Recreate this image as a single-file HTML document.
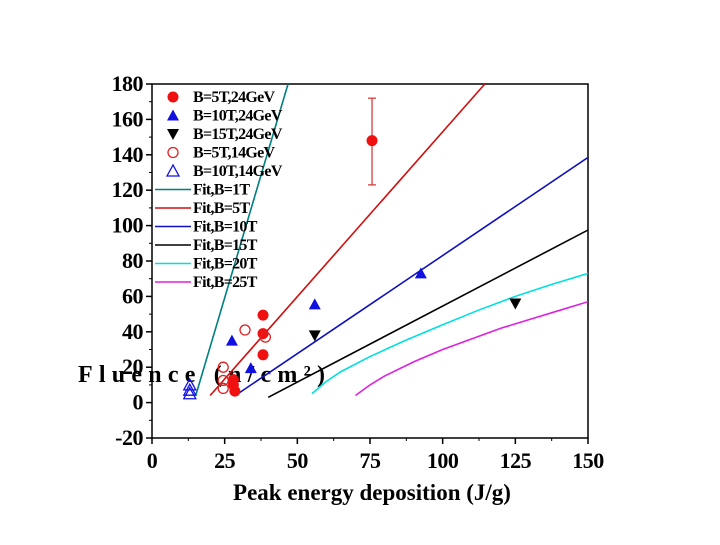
<!DOCTYPE html>
<html><head><meta charset="utf-8"><style>
body{margin:0;background:#fff;}
svg text{font-family:"Liberation Serif",serif;font-weight:bold;}
</style></head><body>
<svg id="c" width="720" height="540" xmlns="http://www.w3.org/2000/svg"></svg>
<script>
const xTicks=[0,25,50,75,100,125,150];
const yTicks=[-20,0,20,40,60,80,100,120,140,160,180];
const red5T24=[[28.5,6.5],[28,10],[28,13],[38.2,27],[38.2,39],[38.2,49.4],[75.7,148]];
const redErr=[75.7,123,172];
const blue10T24=[[27.5,35],[34,19.5],[56,55.5],[92.5,73]];
const black15T24=[[56,38],[125,56]];
const red5T14=[[24.5,8],[24.5,12.5],[24.5,20],[32,41],[39,37]];
const blue10T14=[[13,5],[13,7],[13,10]];
const fit1=[[15.1,4.3],[46.8,180]];
const fit5=[[20,4],[114.5,180]];
const fit10=[[30,5.5],[150,138.5]];
const fit15=[[40,3],[150,97.5]];
const fit20=[[55,5],[60,12],[65,17.5],[75,26],[87,35],[100,44],[112,52],[125,60],[137,66.5],[150,73]];
const fit25=[[70,4],[75,10],[80,15],[90,23],[100,30],[110,36],[120,42],[130,47],[140,52],[150,57]];
const legendLabels=["B=5T,24GeV","B=10T,24GeV","B=15T,24GeV","B=5T,14GeV","B=10T,14GeV","Fit,B=1T","Fit,B=5T","Fit,B=10T","Fit,B=15T","Fit,B=20T","Fit,B=25T"];

const svg=document.getElementById('c');const NS='http://www.w3.org/2000/svg';
const L=152,R=588,T=84,B=438;
const X=v=>L+(v-0)/150*(R-L);
const Y=v=>B-(v+20)/200*(B-T);
function el(t,a,p){const e=document.createElementNS(NS,t);for(const k in a)e.setAttribute(k,a[k]);(p||svg).appendChild(e);return e;}
const frame=el('rect',{x:L,y:T,width:R-L,height:B-T,fill:'none',stroke:'#000','stroke-width':1.5});


xTicks.forEach((v,i)=>{
  el('line',{x1:X(v),x2:X(v),y1:B,y2:B+6,stroke:'#000','stroke-width':1.5});
  if(i<xTicks.length-1)el('line',{x1:X(v+12.5),x2:X(v+12.5),y1:B,y2:B+3,stroke:'#000'});
  const t=el('text',{x:X(v),y:B+30,'text-anchor':'middle','font-size':22,'letter-spacing':'-0.5'});t.textContent=v;
  
  
});
yTicks.forEach((v,i)=>{
  el('line',{x1:L-6,x2:L,y1:Y(v),y2:Y(v),stroke:'#000','stroke-width':1.5});
  if(i<yTicks.length-1)el('line',{x1:L-3,x2:L,y1:Y(v+10),y2:Y(v+10),stroke:'#000'});
  const t=el('text',{x:L-9,y:Y(v)+7,'text-anchor':'end','font-size':22,'letter-spacing':'-0.5'});t.textContent=v;
  
  
});
const xt=el('text',{x:372,y:500,'text-anchor':'middle','font-size':23});xt.textContent='Peak energy deposition (J/g)';


const yt=el('text',{x:78,y:382,'font-size':24,'letter-spacing':'3'});yt.textContent='Fluence (n/cm²)';


yt.setAttribute('textLength','250');
const clip=el('clipPath',{id:'cp'});el('rect',{x:L,y:T,width:R-L,height:B-T},clip);
function line(pts,col,name){const p=el('polyline',{points:pts.map(d=>X(d[0])+','+Y(d[1])).join(' '),fill:'none',stroke:col,'stroke-width':1.6,'clip-path':'url(#cp)'});

}
line(fit1,'#008080','fit-b1t');line(fit5,'#d01010','fit-b5t');line(fit10,'#1010c0','fit-b10t');
line(fit15,'#000','fit-b15t');line(fit20,'#00e0e0','fit-b20t');line(fit25,'#e020e0','fit-b25t');
const eb=el('g',{stroke:'#d03030','stroke-width':1.2});
el('line',{x1:X(redErr[0]),x2:X(redErr[0]),y1:Y(redErr[1]),y2:Y(redErr[2])},eb);
el('line',{x1:X(redErr[0])-4,x2:X(redErr[0])+4,y1:Y(redErr[1]),y2:Y(redErr[1])},eb);
el('line',{x1:X(redErr[0])-4,x2:X(redErr[0])+4,y1:Y(redErr[2]),y2:Y(redErr[2])},eb);


function marker(kind,cx,cy,g){
  if(kind==0)return el('circle',{cx,cy,r:5.5,fill:'#f01010'},g);
  if(kind==1)return el('polygon',{points:`${cx},${cy-6} ${cx-6},${cy+5} ${cx+6},${cy+5}`,fill:'#1010e0'},g);
  if(kind==2)return el('polygon',{points:`${cx},${cy+6} ${cx-6},${cy-5} ${cx+6},${cy-5}`,fill:'#000'},g);
  if(kind==3)return el('circle',{cx,cy,r:5,fill:'none',stroke:'#e02020','stroke-width':1.3},g);
  return el('polygon',{points:`${cx},${cy-6} ${cx-6},${cy+5} ${cx+6},${cy+5}`,fill:'none',stroke:'#1010e0','stroke-width':1.3},g);
}
[[red5T24,0],[blue10T24,1],[black15T24,2],[red5T14,3],[blue10T14,4]].forEach(([arr,k])=>{
  arr.forEach(d=>{const m=marker(k,X(d[0]),Y(d[1]));
  
  });
});
const lcols=['#008080','#d01010','#1010c0','#000','#00e0e0','#e020e0'];
legendLabels.forEach((s,i)=>{
  const y=97+i*18.5;
  const g=el('g',{});
  
  
  if(i<5)marker(i,173,y,g);else el('line',{x1:155,x2:191,y1:y,y2:y,stroke:lcols[i-5],'stroke-width':1.6},g);
  const t=el('text',{x:193,y:y+5,'font-size':16,'letter-spacing':'-0.7'},g);t.textContent=s;
});
</script>
</body></html>
